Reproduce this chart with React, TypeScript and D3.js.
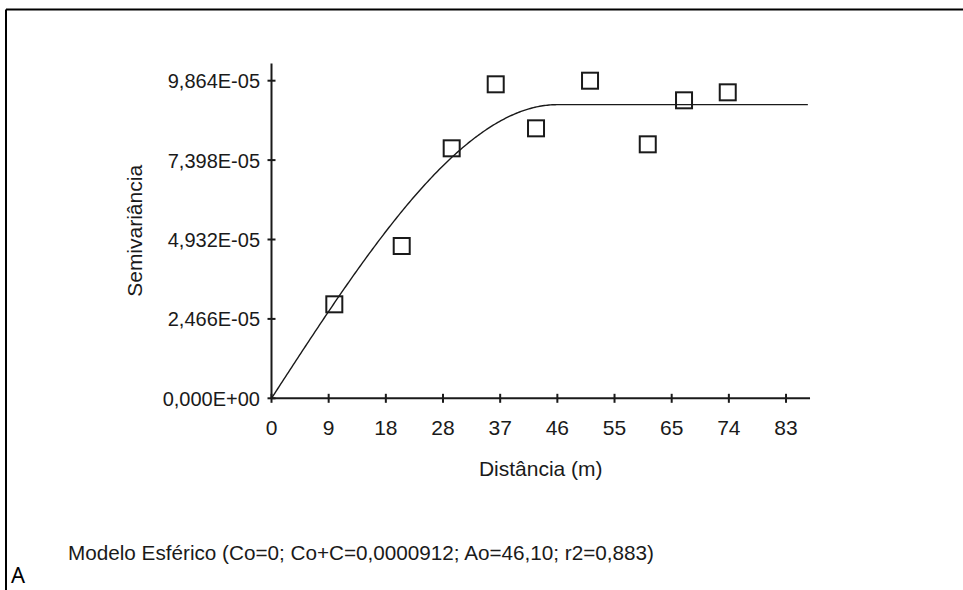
import React from "react";
import * as d3 from "d3";

// Experimental semivariance (lag distance in m, semivariance)
const lagDistance = [10.13, 21.0, 29.06, 36.16, 42.66, 51.37, 60.68, 66.53, 73.58];
const semivariance = [2.919e-5, 4.73e-5, 7.764e-5, 9.752e-5, 8.385e-5, 9.864e-5, 7.888e-5, 9.255e-5, 9.503e-5];

// Fitted spherical model parameters (from caption)
const nugget = 0;          // Co
const sill = 0.0000912;    // Co + C
const range = 46.10;       // Ao

const xTickValues = [0, 9.22, 18.44, 27.66, 36.88, 46.1, 55.32, 64.54, 73.76, 82.98];
const xTickLabels = ["0", "9", "18", "28", "37", "46", "55", "65", "74", "83"];
const yTickValues = [0, 2.466e-5, 4.932e-5, 7.398e-5, 9.864e-5];
const yTickLabels = ["0,000E+00", "2,466E-05", "4,932E-05", "7,398E-05", "9,864E-05"];

const xTitle = "Distância (m)";
const yTitle = "Semivariância";
const caption = "Modelo Esférico (Co=0; Co+C=0,0000912; Ao=46,10; r2=0,883)";
const panelLabel = "A";

const W = 963;
const H = 590;
const FONT = "'Liberation Sans', Arial, sans-serif";

function spherical(h: number): number {
  if (h <= 0) return nugget;
  if (h >= range) return sill;
  const r = h / range;
  return nugget + (sill - nugget) * (1.5 * r - 0.5 * r * r * r);
}

export default function App() {
  const x = d3.scaleLinear().domain([0, 92.2]).range([271.5, 271.5 + 10 * 57.17]);
  const y = d3.scaleLinear().domain([0, 9.864e-5]).range([398.3, 80.7]);
  const xAxisEnd = 86.85;
  const yAxisTop = 10.4e-5;

  const curveX = d3.range(0, 86.5, 0.25).concat([86.5]);
  const line = d3
    .line<number>()
    .x((h) => x(h))
    .y((h) => y(spherical(h)));

  const fg = "#1a1a1a";

  return (
    <svg
      width={W}
      height={H}
      style={{ position: "absolute", left: 0, top: 0, background: "#fff" }}
      fontFamily={FONT}
    >
      <rect x={0} y={0} width={W} height={H} fill="#fff" />
      {/* frame */}
      <line x1={6} y1={9.5} x2={W} y2={9.5} stroke="#000" strokeWidth={2} />
      <line x1={6} y1={9.5} x2={6} y2={H} stroke="#000" strokeWidth={2} />

      {/* model curve */}
      <path d={line(curveX) || ""} fill="none" stroke={fg} strokeWidth={1.4} />

      {/* axes */}
      <line x1={x(0)} y1={y(0)} x2={x(xAxisEnd)} y2={y(0)} stroke={fg} strokeWidth={2} />
      <line x1={x(0)} y1={y(0)} x2={x(0)} y2={y(yAxisTop)} stroke={fg} strokeWidth={2} />

      {xTickValues.map((v, i) => (
        <g key={"xt" + i}>
          <line x1={x(v)} x2={x(v)} y1={y(0) - 4.5} y2={y(0) + 4.5} stroke={fg} strokeWidth={2} />
          <text x={x(v)} y={435} textAnchor="middle" fontSize={21} fill={fg}>
            {xTickLabels[i]}
          </text>
        </g>
      ))}
      {yTickValues.map((v, i) => (
        <g key={"yt" + i}>
          <line x1={x(0) - 4} x2={x(0) + 4} y1={y(v)} y2={y(v)} stroke={fg} strokeWidth={2} />
          <text x={260} y={y(v) + 7.5} textAnchor="end" fontSize={20} fill={fg}>
            {yTickLabels[i]}
          </text>
        </g>
      ))}

      {/* points */}
      {lagDistance.map((h, i) => (
        <rect
          key={"p" + i}
          x={x(h) - 8}
          y={y(semivariance[i]) - 8}
          width={16}
          height={16}
          fill="none"
          stroke={fg}
          strokeWidth={2}
        />
      ))}

      {/* titles */}
      <text x={(x(0) + x(xAxisEnd)) / 2} y={476} textAnchor="middle" fontSize={21} fill={fg}>
        {xTitle}
      </text>
      <text
        transform={`translate(141.5, ${(y(0) + y(yAxisTop)) / 2}) rotate(-90)`}
        textAnchor="middle"
        fontSize={21}
        fill={fg}
      >
        {yTitle}
      </text>

      <text x={68} y={560} fontSize={20.7} fill={fg}>
        {caption}
      </text>
      <text x={11} y={583} fontSize={22} fill="#000" fontFamily="'Noto Sans', 'Open Sans', sans-serif">
        {panelLabel}
      </text>
    </svg>
  );
}
